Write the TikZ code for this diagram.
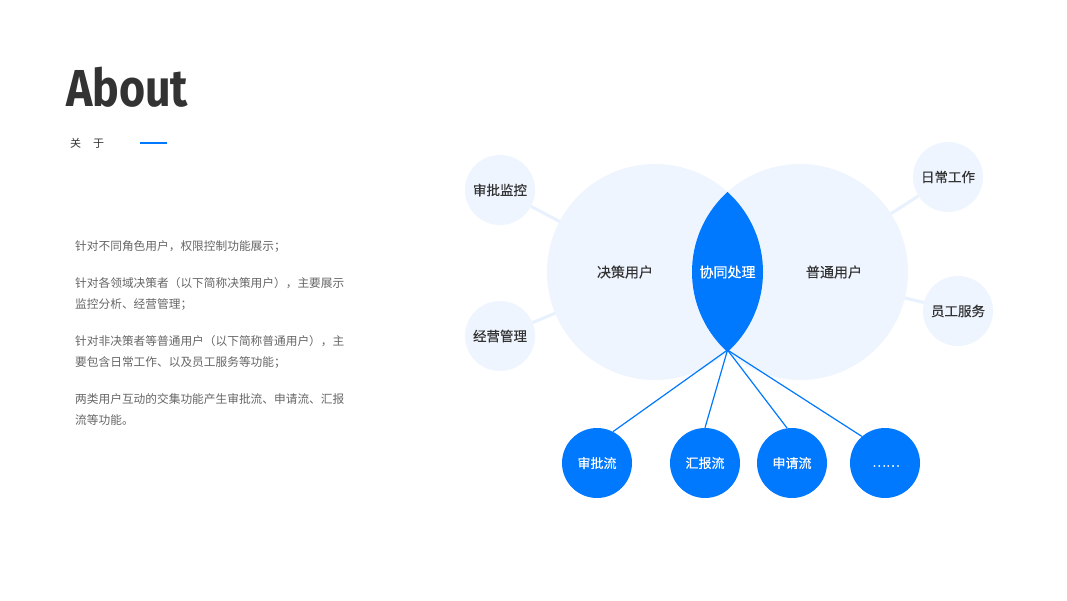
\documentclass[tikz,border=0pt]{standalone}
\usepackage{fontspec}
\setmainfont{Noto Sans CJK SC}
\newfontfamily\cjk{Noto Sans CJK SC}
\newfontfamily\cjkb[FakeBold=0.3]{Noto Sans CJK SC}
\newfontfamily\titlefont[FakeStretch=0.86]{Fira Sans}
\definecolor{mainblue}{HTML}{0079FE}
\definecolor{lightblue}{HTML}{EEF5FF}
\definecolor{linelight}{HTML}{E8F1FE}
\definecolor{darktext}{HTML}{333333}
\definecolor{graytext}{HTML}{666666}
\tikzset{
  bigcirc/.style={circle, fill=lightblue, minimum size=216pt, inner sep=0pt},
  smallcirc/.style={circle, fill=lightblue, minimum size=70pt, inner sep=0pt, text=darktext, font=\cjkb\fontsize{13.5pt}{16pt}\selectfont},
  flowcirc/.style={circle, fill=mainblue, minimum size=70pt, inner sep=0pt, text=white, font=\cjkb\fontsize{13pt}{16pt}\selectfont},
  biglabel/.style={text=darktext, font=\cjkb\fontsize{14pt}{16pt}\selectfont, inner sep=0pt},
  paraline/.style={anchor=west, inner sep=0pt, text=graytext, font=\cjk\fontsize{11.7pt}{14pt}\selectfont},
  lightlink/.style={draw=linelight, line width=3pt},
  bluelink/.style={draw=mainblue, line width=1.2pt}
}
\begin{document}
\begin{tikzpicture}[x=1pt,y=-1pt]
\useasboundingbox (0,0) rectangle (1067,600);
\fill[white] (0,0) rectangle (1067,600);

% title
\node[anchor=base west, inner sep=0pt, text=darktext, font=\titlefont\bfseries\fontsize{52pt}{58pt}\selectfont] (title) at (66,106) {About};
\node[anchor=west, inner sep=0pt, text=darktext, font=\cjk\fontsize{11pt}{13pt}\selectfont] (sub) at (70,143) {关\hspace{12pt}于};
\draw[mainblue, line width=2.5pt] (140,143) coordinate (barA) -- (167,143) coordinate (barB);

% paragraph
\node[paraline] (p1) at (75,246) {针对不同角色用户，权限控制功能展示；};
\node[paraline] (p2) at (75,283) {针对各领域决策者（以下简称决策用户），主要展示};
\node[paraline] (p3) at (75,304) {监控分析、经营管理；};
\node[paraline] (p4) at (75,341) {针对非决策者等普通用户（以下简称普通用户），主};
\node[paraline] (p5) at (75,362) {要包含日常工作、以及员工服务等功能；};
\node[paraline] (p6) at (75,399) {两类用户互动的交集功能产生审批流、申请流、汇报};
\node[paraline] (p7) at (75,420) {流等功能。};

% small circles
\node[smallcirc] (s1) at (500,190) {审批监控};
\node[smallcirc] (s2) at (500,336) {经营管理};
\node[smallcirc] (s3) at (948,177) {日常工作};
\node[smallcirc] (s4) at (958,311) {员工服务};

% big circle positions
\coordinate (Lc) at (655,272);
\coordinate (Rc) at (800,272);

% light connectors (behind big circles)
\draw[lightlink] (s1) -- (Lc);
\draw[lightlink] (s2) -- (Lc);
\draw[lightlink] (s3) -- (Rc);
\draw[lightlink] (s4) -- (Rc);

% big circles
\node[bigcirc] (L) at (Lc) {};
\node[bigcirc] (R) at (Rc) {};

% lens
\begin{scope}
  \clip (Lc) circle (108pt);
  \fill[mainblue] (Rc) circle (108pt);
\end{scope}

\node[biglabel] (tL) at (625,272) {决策用户};
\node[biglabel] (tR) at (834,272) {普通用户};
\node[biglabel, text=white] (tM) at (727.5,272) {协同处理};

% bottom flow circles
\coordinate (apex) at (727.5,350);
\node[flowcirc] (f1) at (597,463) {审批流};
\node[flowcirc] (f2) at (705,463) {汇报流};
\node[flowcirc] (f3) at (792,463) {申请流};
\node[flowcirc] (f4) at (885,463) {};
\node[inner sep=0pt, text=white, font=\cjkb\fontsize{13pt}{16pt}\selectfont] (dots) at (886,466) {……};

\draw[bluelink] (apex) -- (f1.63);
\draw[bluelink] (apex) -- (f2.90);
\draw[bluelink] (apex) -- (f3.98);
\draw[bluelink] (apex) -- (f4.131);
\end{tikzpicture}
\end{document}
